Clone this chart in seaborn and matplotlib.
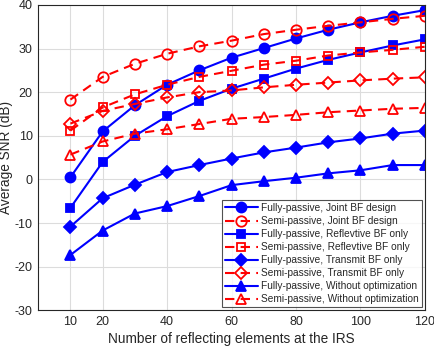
import matplotlib
matplotlib.use("Agg")
import matplotlib.pyplot as plt
import seaborn as sns
import pandas as pd

N = [10, 20, 30, 40, 50, 60, 70, 80, 90, 100, 110, 120]

fp_joint = [0.5, 11.0, 17.0, 21.7, 25.0, 27.9, 30.1, 32.3, 34.3, 36.0, 37.5, 38.8]
sp_joint = [18.3, 23.5, 26.5, 28.8, 30.5, 31.8, 33.3, 34.3, 35.2, 36.0, 36.8, 37.5]
fp_refl = [-6.5, 4.0, 10.0, 14.5, 18.0, 20.8, 23.1, 25.4, 27.4, 29.1, 30.7, 32.1]
sp_refl = [11.2, 16.5, 19.5, 21.7, 23.5, 24.9, 26.3, 27.2, 28.4, 29.1, 29.7, 30.4]
fp_trans = [-10.8, -4.3, -1.2, 1.7, 3.3, 4.8, 6.2, 7.3, 8.5, 9.4, 10.5, 11.2]
sp_trans = [12.8, 15.7, 17.3, 18.8, 20.0, 20.4, 21.1, 21.7, 22.2, 22.7, 23.1, 23.4]
fp_none = [-17.3, -11.7, -7.8, -6.1, -3.8, -1.3, -0.4, 0.4, 1.4, 2.1, 3.3, 3.3]
sp_none = [5.7, 8.7, 10.5, 11.5, 12.7, 13.9, 14.3, 14.8, 15.4, 15.8, 16.2, 16.4]

labels = [
    "Fully-passive, Joint BF design",
    "Semi-passive, Joint BF design",
    "Fully-passive, Reflevtive BF only",
    "Semi-passive, Reflevtive BF only",
    "Fully-passive, Transmit BF only",
    "Semi-passive, Transmit BF only",
    "Fully-passive, Without optimization",
    "Semi-passive, Without optimization",
]
series = [fp_joint, sp_joint, fp_refl, sp_refl, fp_trans, sp_trans, fp_none, sp_none]
markers = ["o", "o", "s", "s", "D", "D", "^", "^"]
msizes = [7.2, 7.5, 6.2, 6.2, 6.0, 6.0, 7.2, 7.5]

xticks = [10, 20, 40, 60, 80, 100, 120]
yticks = [-30, -20, -10, 0, 10, 20, 30, 40]

sns.set_style("white")
plt.rcParams['font.family'] = ['Liberation Sans', 'DejaVu Sans']
plt.rcParams['axes.unicode_minus'] = False

fig = plt.figure(figsize=(4.34, 3.48), dpi=100)
ax = fig.add_axes([0.088, 0.108, 0.891, 0.878])

for i, (lab, vals) in enumerate(zip(labels, series)):
    df = pd.DataFrame({"N": N, "SNR": vals})
    full = i % 2 == 0
    col = "blue" if full else "red"
    sns.lineplot(data=df, x="N", y="SNR", ax=ax, color=col,
                 marker=markers[i], markersize=msizes[i],
                 linestyle="-" if full else (0, (4.5, 3)),
                 linewidth=1.5,
                 markerfacecolor=col if full else "none",
                 markeredgecolor=col, markeredgewidth=1.3,
                 label=lab)

ax.set_xlim(0, 120)
ax.set_ylim(-30, 40)
ax.set_xticks(xticks)
ax.set_yticks(yticks)
ax.grid(True, color="#dcdcdc", linewidth=0.8)
for s in ax.spines.values():
    s.set_color("#262626")
    s.set_linewidth(0.8)
ax.tick_params(labelsize=9, colors="#262626", length=3, direction="in", pad=4)
ax.set_xlabel("Number of reflecting elements at the IRS", fontsize=9.8, labelpad=3)
ax.set_ylabel("Average SNR (dB)", fontsize=9.8)
ax.yaxis.set_label_coords(-0.064, 0.5)

leg = ax.legend(loc="lower right", fontsize=7.3, frameon=True, fancybox=False,
                edgecolor="#262626", handlelength=3.3, handletextpad=0.3,
                labelspacing=0.3, borderpad=0.3, borderaxespad=0.3)
leg.get_frame().set_linewidth(0.8)

fig.savefig("out.png", dpi=100)
